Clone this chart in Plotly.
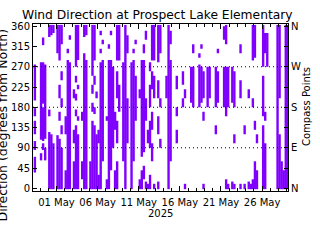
import plotly.graph_objects as go

TITLE = "Wind Direction at Prospect Lake Elementary"
Y_TITLE = "Direction (degrees from North)"
Y2_TITLE = "Compass Points"
YEAR_LABEL = "2025"

DIR_TICKS = [0, 45, 90, 135, 180, 225, 270, 315, 360]
COMPASS_TEXT = ["N", "", "E", "", "S", "", "W", "", "N"]
GRID_DIRS = [90, 180, 270]
DATE_TICKS = ["2025-05-01", "2025-05-06", "2025-05-11", "2025-05-16", "2025-05-21", "2025-05-26"]
X_RANGE = ["2025-04-28 03:30", "2025-05-29 03:30"]
Y_RANGE = [-6, 365]

# 6-hour observation windows: start time and wind-direction ranges observed (degrees, "lo:hi")
SLOT_START = [
    "2025-04-28 06:00", "2025-04-29 00:00", "2025-04-29 06:00", "2025-04-29 12:00",
    "2025-04-30 00:00", "2025-04-30 06:00", "2025-04-30 12:00",
    "2025-05-01 00:00", "2025-05-01 06:00", "2025-05-01 12:00",
    "2025-05-02 00:00", "2025-05-02 06:00", "2025-05-02 12:00",
    "2025-05-03 00:00", "2025-05-03 06:00", "2025-05-03 12:00",
    "2025-05-04 00:00", "2025-05-04 06:00", "2025-05-04 12:00",
    "2025-05-05 00:00", "2025-05-05 06:00", "2025-05-05 12:00", "2025-05-05 18:00",
    "2025-05-06 00:00", "2025-05-06 06:00", "2025-05-06 12:00",
    "2025-05-07 00:00", "2025-05-07 06:00", "2025-05-07 12:00", "2025-05-07 18:00",
    "2025-05-08 00:00", "2025-05-08 06:00", "2025-05-08 12:00",
    "2025-05-09 00:00", "2025-05-09 06:00", "2025-05-09 12:00",
    "2025-05-10 00:00", "2025-05-10 06:00", "2025-05-10 12:00",
    "2025-05-11 00:00", "2025-05-11 06:00", "2025-05-11 12:00", "2025-05-11 18:00",
    "2025-05-12 00:00", "2025-05-12 06:00", "2025-05-12 12:00", "2025-05-12 18:00",
    "2025-05-13 06:00", "2025-05-13 12:00",
    "2025-05-14 06:00", "2025-05-14 12:00", "2025-05-14 18:00",
    "2025-05-15 12:00",
    "2025-05-16 06:00", "2025-05-16 12:00",
    "2025-05-17 06:00", "2025-05-17 12:00",
    "2025-05-18 06:00", "2025-05-18 12:00", "2025-05-18 18:00",
    "2025-05-19 06:00", "2025-05-19 12:00",
    "2025-05-20 06:00", "2025-05-20 12:00",
    "2025-05-21 06:00", "2025-05-21 12:00", "2025-05-21 18:00",
    "2025-05-22 06:00", "2025-05-22 12:00",
    "2025-05-23 06:00", "2025-05-23 18:00",
    "2025-05-24 06:00", "2025-05-24 12:00", "2025-05-24 18:00",
    "2025-05-25 00:00", "2025-05-25 06:00",
    "2025-05-26 00:00", "2025-05-26 06:00", "2025-05-26 12:00",
    "2025-05-27 18:00", "2025-05-28 00:00", "2025-05-28 06:00", "2025-05-28 12:00",
    "2025-05-28 18:00", "2025-05-29 00:00",
]
DIR_RANGES = [
    "35:70 85:105 120:150 160:178 195:275", "62:78 108:280", "85:100 105:180 188:280 318:335", "62:90 110:275",
    "-2:125 160:175 336:363", "-2:120 340:363", "-2:100 345:363",
    "-2:118 300:363", "-2:110 150:170 200:230 284:363", "-2:90 120:140 180:200 240:260 320:363",
    "-2:40 120:160", "-2:285 300:310", "-2:280 330:340",
    "-2:60 100:130 200:220", "-2:140 160:175 195:210 235:250 270:363", "-2:120 150:160 220:230 285:363",
    "20:60 150:170", "-2:300 336:363", "-2:285 340:363",
    "-2:60", "-2:150 170:190 210:230 250:363", "-2:140 165:180 230:250 284:363", "-2:120 200:215",
    "-2:30 100:130", "-2:280 300:310 340:350", "60:285 320:330",
    "-2:20 150:160", "-2:285 310:320", "40:285 340:350", "90:270",
    "-2:40 130:170", "-2:60 100:150 200:260 284:363", "170:230 284:363",
    "60:280", "-2:363", "100:200 300:340",
    "-2:280", "60:285 300:310", "150:250 320:330",
    "-2:20 200:220", "-2:40 70:285", "20:50 80:285 300:320", "-2:15 150:200 330:350",
    "-2:10 100:130", "-2:30 90:150 180:230 260:280", "60:100 130:170 220:260 284:363", "-2:10 200:250 284:363",
    "-2:15 120:160 200:240 280:363", "90:110 180:200 300:363",
    "200:250", "-2:363", "60:285 320:350",
    "100:130 160:180 220:250",
    "180:200 230:260", "-2:10 200:220",
    "190:270", "180:270 300:320",
    "180:275 290:300", "190:270 310:320", "-2:10 150:170 200:260",
    "180:270", "200:270",
    "120:140 180:270", "190:260 300:310",
    "180:270 330:360", "-2:20 160:270 320:363", "-2:10 180:270",
    "-2:15 190:270", "-2:10 100:120 180:260",
    "-2:10 200:240 300:320", "-2:10 120:140",
    "-2:15 200:220", "-2:10", "-2:20 180:200 284:363",
    "-2:60 130:150 290:363", "-2:40 100:120",
    "-2:140 160:250 270:363", "-2:100 150:170 300:345", "270:345",
    "-2:363", "-2:120 200:363", "-2:60", "-2:40",
    "-2:363", "-2:363",
]

PURPLE = "#8000ff"
FONT = "DejaVu Sans"
HOUR_MS = 3600 * 1000

seg_x, seg_lo, seg_len = [], [], []
for t, rng in zip(SLOT_START, DIR_RANGES):
    for part in rng.split():
        lo, hi = part.split(":")
        seg_x.append(t)
        seg_lo.append(float(lo))
        seg_len.append(float(hi) - float(lo))

W, H = 320, 240
L, R, T, B = 33, 32, 24, 49
PW, PH = W - L - R, H - T - B


def pxx(px):
    return (px - L) / PW


def pxy(py):
    return (H - B - py) / PH


fig = go.Figure()
fig.add_trace(go.Bar(
    x=seg_x, y=seg_len, base=seg_lo, width=7 * HOUR_MS, offset=-0.5 * HOUR_MS,
    marker=dict(color=PURPLE, line=dict(width=0)), showlegend=False, hoverinfo="skip",
))
fig.add_trace(go.Scatter(x=[], y=[], yaxis="y2", showlegend=False))

axfont = dict(family=FONT, size=10, color="black")
fig.update_layout(
    width=W, height=H, margin=dict(l=L, r=R, t=T, b=B, pad=0),
    paper_bgcolor="white", plot_bgcolor="white", barmode="overlay", showlegend=False,
    xaxis=dict(
        type="date", range=X_RANGE, tickmode="array", tickvals=DATE_TICKS, tickformat="%d %b",
        ticks="inside", ticklen=5, tickcolor="black", showline=True, linecolor="black", linewidth=1,
        mirror="ticks", showgrid=False, zeroline=False, tickfont=axfont, ticklabelstandoff=2,
        minor=dict(ticks="inside", ticklen=3, dtick=86400000, tick0="2025-05-01", tickcolor="black", showgrid=False),
    ),
    yaxis=dict(
        range=Y_RANGE, tickmode="array", tickvals=DIR_TICKS, ticks="inside", ticklen=4, tickcolor="black",
        showline=True, linecolor="black", linewidth=1, showgrid=False, zeroline=False, tickfont=axfont,
    ),
    yaxis2=dict(
        range=Y_RANGE, overlaying="y", side="right", tickmode="array", tickvals=DIR_TICKS, ticktext=COMPASS_TEXT,
        ticks="inside", ticklen=4, tickcolor="black", showline=True, linecolor="black", linewidth=1,
        showgrid=False, zeroline=False, tickfont=axfont,
    ),
)

for g in GRID_DIRS:
    fig.add_shape(type="line", xref="paper", x0=0, x1=1, yref="y", y0=g, y1=g,
                  line=dict(color="black", width=1, dash="1px,3px"), layer="above")

fig.add_annotation(text=TITLE, xref="paper", yref="paper", x=pxx(157), y=pxy(15), showarrow=False,
                   xanchor="center", yanchor="middle", font=dict(family=FONT, size=12.3, color="black"))
fig.add_annotation(text=Y_TITLE, xref="paper", yref="paper", x=pxx(1.5), y=pxy(125), showarrow=False,
                   textangle=-90, xanchor="center", yanchor="middle", font=dict(family=FONT, size=12.5, color="black"))
fig.add_annotation(text=Y2_TITLE, xref="paper", yref="paper", x=pxx(306), y=pxy(107), showarrow=False,
                   textangle=-90, xanchor="center", yanchor="middle", font=dict(family=FONT, size=10, color="black"))
fig.add_annotation(text=YEAR_LABEL, xref="paper", yref="paper", x=0.5, y=pxy(213), showarrow=False,
                   xanchor="center", yanchor="middle", font=axfont)

fig.write_html("out.html")
